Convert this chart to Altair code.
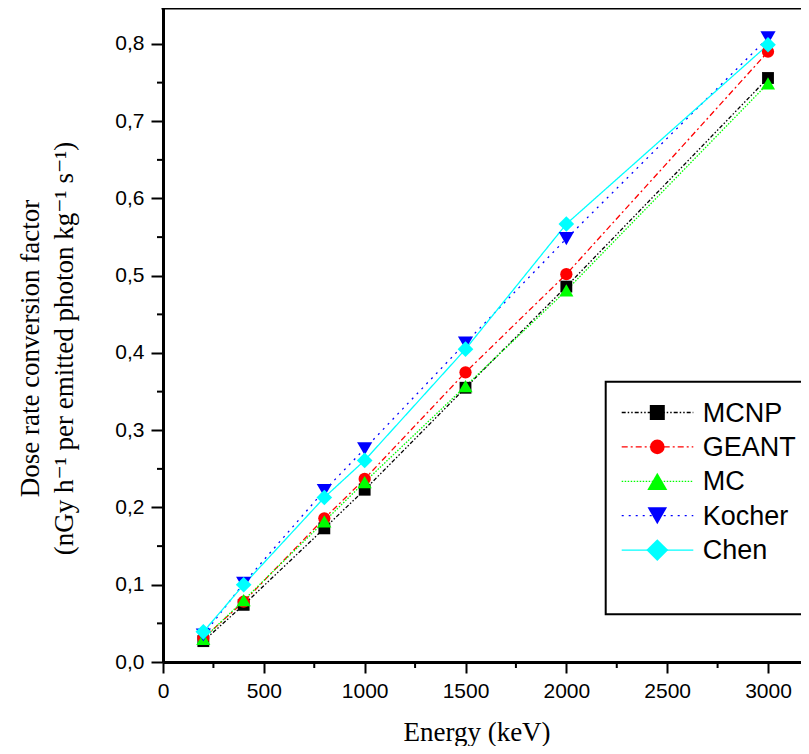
import altair as alt
import pandas as pd

energy = [200, 400, 800, 1000, 1500, 2000, 3000]
series = ["MCNP", "GEANT", "MC", "Kocher", "Chen"]
mcnp = [0.027, 0.074, 0.173, 0.223, 0.355, 0.486, 0.756]
geant = [0.031, 0.078, 0.186, 0.237, 0.375, 0.502, 0.790]
mc = [0.030, 0.080, 0.182, 0.233, 0.357, 0.481, 0.749]
kocher = [0.035, 0.102, 0.222, 0.276, 0.413, 0.548, 0.808]
chen = [0.039, 0.100, 0.213, 0.261, 0.405, 0.567, 0.799]
values = [mcnp, geant, mc, kocher, chen]

x_major = [0, 500, 1000, 1500, 2000, 2500, 3000]
x_minor = [250, 750, 1250, 1750, 2250, 2750]
y_major = [0.0, 0.1, 0.2, 0.3, 0.4, 0.5, 0.6, 0.7, 0.8]
y_minor = [0.05, 0.15, 0.25, 0.35, 0.45, 0.55, 0.65, 0.75]

colors = ["#000000", "#ff0000", "#00ff00", "#0000ff", "#00ffff"]
shapes = ["square", "circle", "triangle-up", "triangle-down", "diamond"]
dashes = [[4, 2, 1.5, 2, 1.5, 2], [6, 3, 2, 3], [1.5, 1.5], [2, 5], [1, 0]]
plot_sizes = [140, 150, 200, 230, 245]
legend_sizes = [225, 215, 400, 380, 480]

rows = []
for name, vals in zip(series, values):
    for e, v in zip(energy, vals):
        rows.append({"series": name, "energy": e, "value": v})
df = pd.DataFrame(rows)

W, H = 638, 654
XMAX = 3163.6
YMAX = 0.8466

SERIF = "'Liberation Serif', 'DejaVu Serif', serif"
SANS = "'Liberation Sans', Arial, sans-serif"

xs = alt.Scale(domain=[0, XMAX], nice=False, zero=False)
ys = alt.Scale(domain=[0, YMAX], nice=False, zero=False)

xaxis = alt.Axis(
    values=x_major, format="d", title="Energy (keV)", grid=False,
    tickSize=11, tickWidth=2, tickColor="black",
    domainWidth=3, domainColor="black",
    labelFont=SANS, labelFontSize=21, labelColor="black",
    labelPadding=7, labelFlush=False, labelOverlap=False,
    titleFont=SERIF, titleFontSize=27, titleFontWeight="normal",
    titleColor="black", titleX=313.5, titleY=78, titleAlign="center",
    titleBaseline="alphabetic",
)
yaxis = alt.Axis(
    values=y_major,
    title=["Dose rate conversion factor",
           "(nGy h\u207b\u00b9 per emitted photon kg\u207b\u00b9 s\u207b\u00b9)"],
    grid=False, tickSize=12, tickWidth=2, tickColor="black",
    domainWidth=3, domainColor="black",
    labelFont=SANS, labelFontSize=21, labelColor="black",
    labelPadding=7, labelFlush=False, labelOverlap=False,
    labelExpr="replace(format(datum.value, '.1f'), '.', ',')",
    titleFont=SERIF, titleFontSize=27, titleFontWeight="normal",
    titleColor="black", titleAngle=270, titleX=-125, titleY=340,
    titleAlign="center", titleBaseline="alphabetic", titleLineHeight=34,
)

X = alt.X("energy:Q", scale=xs, axis=xaxis)
Y = alt.Y("value:Q", scale=ys, axis=yaxis)

one = alt.Data(values=[{}])

layers = []

lines = alt.Chart(df).mark_line(strokeWidth=1.3).encode(
    x=X, y=Y,
    color=alt.Color("series:N", scale=alt.Scale(domain=series, range=colors), legend=None),
    strokeDash=alt.StrokeDash("series:N", scale=alt.Scale(domain=series, range=dashes), legend=None),
    detail="series:N",
    order="energy:Q",
)
layers.append(lines)

for i, name in enumerate(series):
    pts = alt.Chart(df).transform_filter(alt.datum.series == name).mark_point(
        filled=True, shape=shapes[i], size=plot_sizes[i], color=colors[i],
        opacity=1, strokeWidth=0,
    ).encode(x=X, y=Y)
    layers.append(pts)

# minor ticks
xmin_df = pd.DataFrame({"energy": x_minor})
layers.append(
    alt.Chart(xmin_df).mark_rule(strokeWidth=2, color="black").encode(
        x=X, y=alt.value(H), y2=alt.value(H + 6))
)
ymin_df = pd.DataFrame({"value": y_minor})
layers.append(
    alt.Chart(ymin_df).mark_rule(strokeWidth=2, color="black").encode(
        y=Y, x=alt.value(-6), x2=alt.value(0))
)

# top frame line
layers.append(
    alt.Chart(one).mark_rule(strokeWidth=3, color="black").encode(
        x=alt.value(-1.5), x2=alt.value(W + 6), y=alt.value(0))
)

# legend box
layers.append(
    alt.Chart(one).mark_rect(fill="white", stroke="black", strokeWidth=2).encode(
        x=alt.value(442.7), x2=alt.value(W + 8), y=alt.value(373.7), y2=alt.value(606.3))
)
for i, name in enumerate(series):
    ly = 404.5 + i * 34.4
    layers.append(
        alt.Chart(one).mark_rule(color=colors[i], strokeDash=dashes[i], strokeWidth=1.3).encode(
            x=alt.value(458.7), x2=alt.value(530.3), y=alt.value(ly))
    )
    layers.append(
        alt.Chart(one).mark_point(filled=True, shape=shapes[i], size=legend_sizes[i],
                                  color=colors[i], opacity=1, strokeWidth=0).encode(
            x=alt.value(494.3), y=alt.value(ly))
    )
    layers.append(
        alt.Chart(one).mark_text(text=name, align="left", baseline="middle",
                                 font=SANS, fontSize=27, color="black").encode(
            x=alt.value(539.7), y=alt.value(ly + 1))
    )

chart = alt.layer(*layers).properties(
    width=W, height=H,
    padding={"left": 155, "top": 0, "right": 0, "bottom": 84},
    autosize=alt.AutoSizeParams(type="none"),
).configure_view(stroke=None)

chart.save("out.html", embed_options={"renderer": "svg", "actions": False})
